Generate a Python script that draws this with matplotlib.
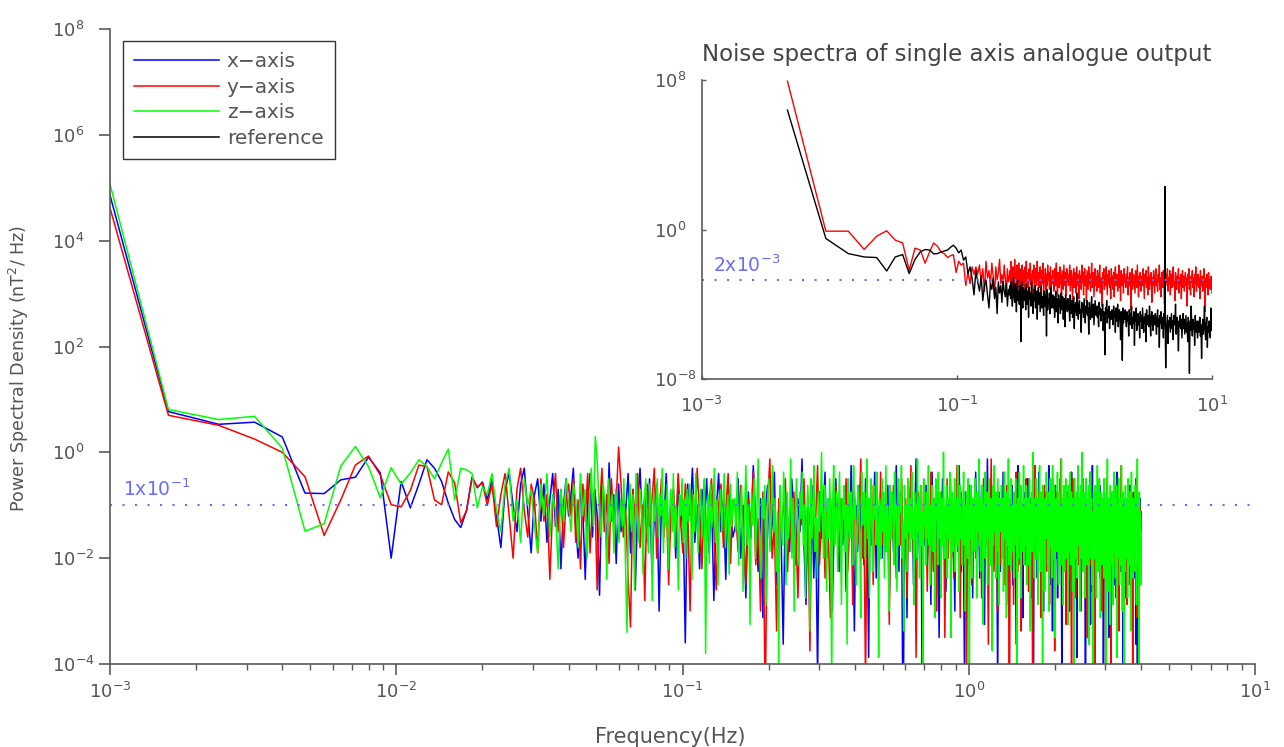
import numpy as np
import matplotlib
matplotlib.use("Agg")
import matplotlib.pyplot as plt
from matplotlib.ticker import FixedLocator, NullLocator, LogLocator

# ---------------- data ----------------
DF_MAIN = 0.8e-3      # Hz, bin spacing of main spectra
F_SPLIT_MAIN = 0.15   # Hz, start of the dense high-frequency block
F_END_MAIN = 4.0      # Hz
N_LIN_XY = 50         # bins on the native grid (x, y axis)
N_LIN_Z = 100         # bins on the native grid (z axis)
DF_INSET = 4.7e-3
F_END_INSET = 10.0
N_LIN_INSET = 55

# log10 PSD of the lowest bins
X_LOW = [6.80, 0.77, 0.53, 0.57, 0.29, -0.77, -0.78, -0.52, -0.47, -0.09, -0.39, -2.0, -0.55,
         -1.05, -0.6, -0.14, -0.3, -0.55, -0.96, -1.27, -1.42, -1.1, -0.47, -0.67, -0.56]
Y_LOW = [6.48, 0.70, 0.51, 0.25, 0.0, -0.46, -1.57, -0.9, -0.24, -0.07, -0.43, -0.99, -1.03,
         -0.72, -0.24, -0.27, -0.9, -0.99, -0.37, -0.58, -1.33, -1.1, -0.47, -0.65, -0.58]
Z_LOW = [7.09, 0.81, 0.62, 0.68, 0.08, -1.49, -1.35, -0.26, 0.11, -0.27, -0.86, -0.29, -0.6,
         -0.39, -0.14, -0.27, -0.5, -0.2, 0.06, -0.9, -0.3, -0.33, -0.4, -1.05, -0.65]

# mid bins: depth below 1 nT^2/Hz in tenths of a decade (PSD = 10**(-d/10))
X_MID = [9, 5, 12, 18, 7, 4, 10, 15, 6, 3, 11, 19, 8, 5, 13, 6, 17, 9, 4, 14, 7, 22, 10, 5, 12,
         8, 3, 14, 20, 6, 11, 24, 9, 4, 16, 7, 12, 27, 5, 10, 18, 2, 13, 8, 21, 6, 15, 9,
         11, 4, 19, 7, 26, 10, 3, 14, 8, 17, 5, 23, 12, 6, 30, 9, 13, 4, 18, 11, 7, 20, 5,
         14, 9, 36, 6, 12, 3, 17, 10, 22, 7, 13, 5, 19, 8, 28, 11, 4, 15, 9, 24, 6, 12, 16]
Y_MID = [10, 6, 14, 8, 4, 12, 20, 7, 3, 11, 16, 6, 9, 19, 5, 13, 8, 24, 10, 4, 15, 7, 18, 9, 6,
         12, 5, 17, 9, 22, 6, 13, 4, 19, 10, 7, 26, 11, 3, 15, 8, 21, 5, 14, 9, -1, 6, 16,
         11, 24, 33, 7, 13, 4, 18, 10, 28, 6, 14, 9, 3, 20, 12, 5, 16, 8, 25, 11, 7, 15, 4,
         13, 19, 6, 10, 30, 8, 15, 3, 12, 22, 7, 17, 9, 5, 14, 26, 10, 6, 18, 11, 4, 21, 9]
Z_MID = [8, 4, 11, 15, 6, 3, 13, 9, 17, 5, 10, 7, 14, 19, 6, 12, 4, 16, 8, 11, 22, 7, 13, 5, 10,
         15, 6, 9, 18, 4, 12, 7, 20, 10, 3, 14, -3, 2, 11, 16, 6, 9, 24, 5, 13, 8, 19, 7, 12, 17,
         9, 14, 5, 21, 34, 10, 6, 15, 8, 26, 4, 12, 17, 7, 11, 23, 9, 5, 14, 19, 6, 10, 28, 8, 13,
         10, 5, 16, 8, 12, 3, 19, 9, 14, 6, 22, 11, 7, 15, 4, 18, 10, 13, 26, 8, 12, 5, 17, 9, 20, 7,
         13, 6, 11, 24, 8, 15, 4, 12, 19, 9, 7, 16, 10, 5, 38, 13, 8, 21, 6, 14, 11, 3, 17, 9, 25, 12,
         7, 15, 10, 4, 18, 12, 8, 23, 6, 14, 9]
# dense block 0.15 - 4 Hz: depth index, HI_STEP decades per unit below 10**HI_TOP
HI_TOP = 0.25
HI_STEP = 0.125
X_HI = [13, 6, 18, 10, 24, 8, 15, 4, 12, 20, 9, 27, 11, 7, 16, 13, 5, 22, 10, 14, 31, 8, 12, 17, 6, 11,
        19, 9, 14, 3, 16, 25, 10, 13, 7, 21, 12, 36, 8, 15, 11, 5, 18, 13, 9, 26, 14, 6, 12, 20, 10, 16,
        8, 23, 12, 15, 4, 13, 29, 10, 17, 7, 14, 11, 19, 6, 12, 33, 9, 16, 13, 5, 21, 10, 14, 8, 18, 12,
        10, 15, 7, 24, 13, 9, 17, 11, 4, 14, 20, 8, 12, 48, 16, 10, 27, 6, 13, 15, 9, 22, 11, 3, 18, 12,
        14, 9, 46, 11, 16, 7, 19, 13, 10, 25, 5, 15, 12, 21, 8, 14, 30, 10, 17, 6, 13, 11, 23, 9, 15, 12,
        6, 18, 11, 14, 26, 9, 13, 16, 4, 12, 20, 10, 15, 34, 8, 13, 11, 19, 7, 16, 12, 24, 10, 14, 5, 17,
        12, 9, 21, 13, 7, 15, 11, 28, 10, 16, 3, 14, 12, 19, 9, 23, 13, 6, 17, 11, 15, 38, 8, 12, 20, 10,
        15, 5, 13, 18, 11, 25, 8, 14, 10, 16, 12, 7, 22, 13, 9, 15, 31, 11, 4, 17, 12, 19, 10, 14, 27, 8,
        13, 16, 10, 20, 6, 12, 15, 9, 24, 14, 11, 42, 7, 13, 17, 10, 21, 12, 5, 15, 11, 18, 9, 14, 26, 12,
        8, 14, 19, 11, 13, 4, 16, 22, 10, 12, 29, 9, 15, 13, 7, 18, 11, 24, 14, 10, 16, 6, 13, 35, 11, 15,
        12, 9, 17, 14, 21, 8, 13, 11, 26, 10, 15, 5, 19, 12, 16, 9, 23, 14, 11, 33, 7, 13, 18, 10, 15, 12,
        16, 11, 6, 20, 13, 10, 47, 15, 9, 22, 12, 14, 8, 17, 28, 11, 13, 4, 19, 10, 15, 25, 12, 9, 16, 14,
        10, 18, 13, 7, 15, 24, 11, 14, 9, 46, 12, 16, 10, 21, 13, 6, 17, 11, 30, 14, 9, 15, 12, 19, 8, 13,
        14, 11, 22, 9, 16, 12, 5, 18, 13, 27, 10, 15, 11, 20, 8, 14, 12, 36, 9, 16, 13, 10, 24, 11, 17, 12,
        9, 15, 12, 19, 7, 14, 26, 11, 16, 10, 13, 21, 8, 15, 12, 31, 11, 17, 40, 10, 14, 13, 22, 9, 15, 11]
Y_HI = [11, 17, 7, 14, 22, 9, 13, 5, 19, 12, 26, 8, 40, 10, 3, 18, 13, 29, 9, 14, 11, 6, 20, 12, 16, 8,
        14, 24, 10, 13, 6, 17, 11, 32, 9, 15, 12, 4, 19, 13, 8, 21, 11, 16, 27, 10, 14, 7, 12, 18, 9, 15,
        12, 6, 20, 14, 10, 25, 8, 13, 16, 11, 3, 18, 12, 37, 9, 15, 13, 7, 22, 10, 14, 12, 19, 5, 16, 11,
        17, 9, 13, 28, 11, 15, 7, 12, 21, 10, 14, 16, 6, 19, 13, 9, 24, 11, 15, 4, 12, 18, 10, 33, 13, 8,
        14, 11, 19, 7, 15, 12, 23, 10, 16, 5, 13, 20, 9, 14, 26, 11, 12, 17, 8, 15, 10, 30, 13, 6, 18, 12,
        9, 16, 12, 21, 10, 14, 4, 17, 13, 27, 8, 15, 11, 19, 12, 41, 10, 14, 7, 16, 22, 11, 13, 9, 18, 12,
        15, 8, 14, 11, 24, 13, 6, 18, 10, 16, 12, 31, 9, 14, 3, 17, 11, 20, 13, 10, 15, 26, 8, 12, 19, 11,
        13, 17, 10, 22, 12, 7, 15, 11, 48, 14, 9, 18, 13, 25, 10, 16, 5, 12, 20, 11, 14, 8, 29, 13, 16, 10,
        12, 19, 6, 14, 11, 23, 9, 15, 13, 17, 36, 10, 12, 4, 18, 14, 11, 21, 8, 16, 13, 27, 10, 15, 12, 7,
        16, 11, 20, 13, 9, 15, 25, 12, 10, 18, 6, 14, 12, 32, 11, 16, 8, 13, 22, 10, 15, 12, 3, 17, 11, 19,
        10, 14, 12, 28, 8, 16, 13, 11, 21, 9, 15, 39, 12, 6, 17, 13, 10, 24, 14, 11, 16, 8, 19, 12, 15, 26,
        11, 17, 9, 13, 20, 12, 15, 7, 14, 30, 10, 16, 13, 5, 19, 11, 23, 14, 12, 9, 17, 43, 10, 15, 13, 18,
        8, 14, 12, 21, 16, 10, 13, 26, 11, 15, 9, 18, 12, 47, 14, 6, 17, 11, 22, 13, 10, 16, 34, 12, 15, 9,
        13, 19, 11, 15, 7, 24, 12, 16, 10, 14, 29, 9, 17, 13, 4, 20, 12, 15, 11, 38, 14, 10, 18, 12, 25, 13,
        11, 16, 9, 22, 14, 12, 18, 8, 15, 35, 13, 10, 20, 12, 16, 6, 14, 27, 11, 17, 13, 41, 10, 15, 19, 12]
Z_HI = [9, 14, 5, 19, 11, 7, 23, 12, 4, 16, 10, 28, 8, 13, 6, 18, 11, 3, 15, 21, 9, 12, 7, 25, 10,
        6, 17, 12, 4, 14, 9, 20, 11, 34, 7, 13, 16, 5, 10, 22, 8, 15, 12, 3, 18, 9, 26, 11, 6, 14,
        19, 8, 12, 5, 16, 10, 24, 13, 7, 11, 29, 6, 15, 9, 4, 17, 12, 21, 8, 14, 10, 2, 13, 18, 7,
        11, 23, 9, 15, 6, 12, 38, 10, 4, 16, 13, 8, 20, 11, 5, 14, 25, 9, 12, 7, 17, 10, 31, 6, 13,
        15, 8, 11, 19, 4, 12, 9, 22, 14, 7, 10, 16, 27, 5, 13, 11, 8, 18, 12, 3, 15, 9, 24, 10, 6,
        14, 20, 7, 12, 10, 16, 5, 13, 33, 9, 11, 18, 6, 14, 8, 21, 12, 4, 17, 10, 13, 26, 7, 15, 11,
        8, 13, 19, 5, 12, 10, 23, 14, 6, 16, 9, 11, 4, 18, 13, 29, 7, 12, 15, 10, 20, 6, 14, 9, 17,
        12, 5, 15, 11, 25, 8, 13, 10, 18, 3, 14, 9, 21, 12, 7, 16, 11, 36, 6, 13, 10, 19, 8, 15, 12,
        4, 16, 10, 22, 13, 7, 11, 17, 9, 14, 27, 6, 12, 10, 19, 5, 15, 11, 8, 24, 13, 9, 16, 2, 12,
        18, 10, 14, 7, 21, 12, 9, 15, 5, 13, 30, 11, 8, 17, 10, 14, 6, 20, 12, 9, 16, 4, 13, 23, 11,
        7, 15, 12, 19, 9, 13, 5, 16, 10, 26, 14, 8, 11, 18, 6, 13, 40, 10, 15, 7, 12, 21, 9, 14, 11,
        17, 6, 13, 10, 24, 8, 14, 12, 3, 16, 11, 20, 9, 15, 7, 13, 28, 10, 12, 5, 18, 11, 14, 8, 22,
        10, 15, 6, 12, 19, 9, 13, 11, 32, 7, 16, 10, 4, 14, 12, 21, 8, 17, 11, 6, 15, 25, 9, 13, 10,
        14, 7, 18, 12, 9, 23, 11, 5, 15, 10, 13, 27, 8, 16, 12, 3, 19, 11, 14, 9, 20, 6, 13, 10, 17,
        11, 21, 8, 14, 12, 6, 16, 10, 35, 13, 9, 18, 11, 5, 15, 12, 24, 7, 14, 10, 17, 13, 4, 19, 9,
        13, 10, 16, 7, 22, 12, 9, 14, 11, 19, 6, 15, 29, 10, 13, 8, 17, 12, 2, 16, 11, 21, 9, 14, 12,
        6, 18, 11, 13, 25, 9, 15, 10, 4, 17, 12, 20, 8, 14, 11, 46, 7, 13, 16, 10, 23, 9, 12, 15, 5,
        14, 11, 19, 8, 13, 10, 26, 12, 6, 16, 9, 15, 21, 11, 4, 14, 12, 18, 7, 13, 30, 10, 16, 9, 12,
        17, 5, 13, 11, 22, 8, 15, 12, 10, 19, 14, 3, 16, 9, 12, 25, 11, 7, 14, 20, 10, 13, 6, 18, 11,
        9, 15, 12, 28, 7, 14, 10, 17, 13, 5, 19, 11, 8, 16, 12, 23, 9, 14, 11, 37, 6, 13, 15, 10, 18,
        12, 8, 21, 11, 14, 4, 16, 10, 13, 26, 9, 15, 7, 12, 18, 11, 2, 14, 10, 20, 13, 8, 17, 11, 24,
        10, 14, 6, 13, 19, 9, 12, 16, 11, 31, 7, 15, 10, 13, 5, 18, 12, 9, 22, 14, 11, 16, 47, 8, 13,
        15, 11, 18, 7, 13, 10, 24, 12, 16, 4, 14, 9, 20, 11, 13, 6, 17, 12, 27, 10, 15, 8, 19, 11, 14,
        9, 16, 12, 21, 6, 13, 11, 17, 10, 45, 14, 8, 15, 12, 3, 18, 11, 23, 9, 13, 16, 10, 28, 7, 14,
        12, 19, 10, 14, 8, 16, 11, 25, 13, 5, 17, 10, 14, 9, 21, 12, 15, 7, 13, 33, 11, 18, 10, 14, 6,
        16, 12, 22, 9, 14, 11, 19, 13, 4, 15, 10, 26, 12, 17, 8, 13, 44, 11, 16, 10, 20, 7, 14, 12, 18,
        11, 15, 9, 24, 13, 6, 17, 12, 10, 19, 14, 8, 16, 11, 29, 13, 5, 18, 10, 15, 12, 21, 9, 14, 11,
        17, 10, 13, 7, 20, 12, 15, 9, 25, 11, 14, 3, 16, 12, 19, 10, 13, 38, 8, 15, 11, 18, 12, 22, 14]

# inset: single-axis output (red) and reference (black)
SA_LOW = [7.94, -0.09, -0.09, -1.07, -0.36, -0.07, -0.57, -0.72, -2.18, -1.0, -1.1, -1.8, -1.2,
          -0.72, -0.9, -1.2, -1.3, -1.5, -1.4, -1.35, -2.3, -1.7, -1.9, -1.8, -3.0, -2.3, -2.9,
          -2.0, -2.4, -2.0]
REF_LOW = [6.39, -0.48, -1.29, -1.47, -1.5, -2.22, -1.47, -1.34, -2.36, -1.6, -1.2, -1.07, -1.1,
           -1.3, -1.29, -1.2, -1.15, -1.1, -0.95, -0.84, -1.0, -1.25, -1.1, -1.64, -1.47, -2.36,
           -2.0, -2.6, -3.5, -2.2]
# depth in tenths of a decade (PSD = 10**(-d/10))
SA_MID = [24, 19, 28, 21, 33, 17, 26, 22, 30, 18, 25, 35, 20, 27, 23, 16, 29, 24, 31, 19, 26, 34, 21, 28, 25]
REF_MID = [28, 33, 25, 38, 30, 27, 35, 42, 29, 32, 26, 37, 31, 45, 28, 34, 30, 39, 27, 33, 36, 29, 41, 32, 35]
SA_HI = [22, 29, 17, 26, 33, 20, 24, 31, 16, 27, 23, 35, 19, 28, 25, 18, 32, 21, 27, 38, 24, 19, 30, 22, 26,
         34, 20, 28, 17, 25, 31, 23, 36, 21, 27, 18, 29, 24, 40, 22, 26, 19, 33, 28, 21, 25, 30, 17, 27, 23,
         31, 24, 20, 35, 26, 22, 29, 18, 33, 25, 28, 21, 37, 24, 30, 19, 27, 23, 32, 26, 20, 34, 25, 29, 22,
         27, 33, 21, 25, 30, 18, 28, 36, 23, 26, 31, 20, 29, 24, 42, 22, 27, 32, 19, 25, 30, 23, 35, 21, 28,
         24, 30, 26, 19, 33, 27, 22, 29, 38, 25, 21, 31, 28, 23, 34, 20, 26, 30, 24, 37, 22, 29, 25, 32, 19,
         28, 23, 35, 26, 21, 30, 25, 39, 22, 27, 32, 20, 29, 24, 33, 27, 18, 31, 26, 23, 36, 28, 21, 30, 25,
         33, 22, 27, 31, 24, 19, 34, 26, 29, 41, 23, 28, 21, 32, 25, 30, 20, 27, 35, 24, 29, 22, 31, 26, 37,
         21, 29, 25, 32, 23, 36, 27, 20, 30, 26, 24, 33, 28, 19, 31, 25, 38, 22, 27, 30, 24, 34, 21, 28, 26,
         31, 24, 28, 20, 35, 26, 30, 23, 27, 43, 25, 21, 32, 28, 24, 29, 34, 22, 26, 31, 19, 28, 36, 25, 30,
         23, 33, 27, 25, 30, 21, 29, 37, 24, 28, 22, 31, 26, 35, 20, 27, 32, 25, 29, 23, 39, 26, 30, 22, 28,
         34, 25, 21, 30, 27, 33, 24, 28, 19, 32, 26, 36, 23, 29, 31, 22, 27, 40, 25, 30, 24, 28, 21, 33, 26,
         29, 22, 35, 27, 24, 31, 26, 20, 30, 28, 38, 23, 27, 32, 25, 29, 21, 34, 26, 30, 24, 37, 28, 22, 31,
         25, 33, 28, 23, 30, 26, 41, 24, 29, 21, 32, 27, 35, 25, 28, 22, 31, 26, 36, 24, 29, 20, 33, 27, 30,
         24, 31, 26, 37, 22, 28, 30, 25, 33, 27, 21, 29, 44, 26, 31, 24, 28, 35, 23, 30, 27, 32, 25, 29, 34]
REF_HI = [30, 37, 28, 35, 41, 32, 26, 36, 39, 29, 34, 44, 31, 27, 38, 33, 40, 30, 35, 60, 28, 36, 42, 31, 34,
          38, 32, 43, 29, 36, 40, 33, 47, 31, 37, 34, 41, 28, 39, 35, 45, 32, 38, 30, 42, 36, 33, 48, 35, 31,
          40, 34, 44, 37, 30, 42, 36, 39, 46, 33, 41, 35, 38, 57, 32, 43, 37, 40, 34, 45, 36, 31, 42, 38, 35,
          42, 36, 47, 39, 33, 44, 40, 37, 50, 35, 41, 38, 45, 34, 43, 39, 36, 48, 40, 37, 52, 35, 42, 38, 44,
          37, 43, 40, 49, 35, 45, 41, 38, 47, 42, 36, 53, 40, 44, 39, 46, 34, 42, 48, 41, 38, 45, 43, 55, 39,
          44, 40, 47, 37, 43, 50, 41, 45, 38, 46, 42, 56, 39, 44, 48, 41, 36, 47, 43, 40, 51, 45, 38, 42, 46,
          41, 47, 44, 52, 39, 45, 42, 49, 43, 46, 40, 54, 44, 48, 67, 42, 45, 38, 50, 43, 47, 41, 53, 45, 44,
          48, 43, 46, 51, 41, 47, 44, 55, 42, 49, 45, 40, 52, 46, 43, 48, 59, 44, 47, 70, 42, 50, 45, 48, 43,
          47, 52, 44, 49, 46, 57, 43, 48, 51, 45, 41, 53, 47, 50, 44, 62, 46, 49, 42, 54, 48, 45, 51, 47, 58,
          44, 49, 46, 53, 42, 48, 55, 47, 50, 45, 60, 43, 51, 48, 46, 52, 41, 49, 57, 47, 44, 50, 54, 46, 48,
          51, 45, 49, 56, 47, 43, 52, 48, 63, 46, 50, 44, 53, 49, 47, 58, 45, 51, 48, 74, 54, 50, 46, 61, 49,
          52, 47, 55, 50, 45, 53, 49, 59, 46, 51, 48, 40, 56, 50, 47, 54, 65, 49, 52, 46, 53, 48, 58, 51, 45,
          53, 48, 56, 51, 46, 55, 50, 60, 47, 52, 77, 49, 54, 41, 51, 57, 48, 53, 50, 62, 46, 52, 55, 49, 58,
          49, 55, 52, 47, 57, 51, 69, 53, 48, 56, 50, 41, 54, 59, 51, 47, 63, 52, 55, 49, 53, 58, 42, 54, 51]
SPIKE_F = 4.29        # Hz, interference line in the inset
SPIKE_LOG = 2.3       # log10 PSD at the line

REF_LEVEL_MAIN = 1e-1
REF_LEVEL_INSET = 2e-3
LABELS = ["x\u2212axis", "y\u2212axis", "z\u2212axis", "reference"]


def main_spectrum(low_log, mid, hi, n_lin):
    vals = np.concatenate([10.0 ** np.asarray(low_log, float),
                           10.0 ** (-np.asarray(mid, float) / 10.0),
                           10.0 ** (HI_TOP - HI_STEP * np.asarray(hi, float))])
    f_lin = DF_MAIN * np.arange(1, n_lin + 1)
    n_mid = len(low_log) + len(mid) - n_lin
    f_mid = np.geomspace(f_lin[-1], F_SPLIT_MAIN, n_mid + 1)[1:]
    # dense block sampled evenly in sqrt(f): density grows with f like the original bins
    f_hi = np.linspace(np.sqrt(F_SPLIT_MAIN), np.sqrt(F_END_MAIN), len(hi) + 1)[1:] ** 2
    return np.concatenate([f_lin, f_mid, f_hi]), vals


def inset_spectrum(low_log, mid, hi):
    vals = np.concatenate([10.0 ** np.asarray(low_log, float),
                           10.0 ** (-np.asarray(mid, float) / 10.0),
                           10.0 ** (-np.asarray(hi, float) / 10.0)])
    f_lin = DF_INSET * np.arange(1, N_LIN_INSET + 1)
    f_hi = np.geomspace(f_lin[-1], F_END_INSET, len(hi) + 1)[1:]
    f = np.concatenate([f_lin, f_hi])
    i = np.searchsorted(f, SPIKE_F)
    return np.insert(f, i, SPIKE_F), np.insert(vals, i, 10.0 ** SPIKE_LOG)


fx, vx = main_spectrum(X_LOW, X_MID, X_HI, N_LIN_XY)
fy, vy = main_spectrum(Y_LOW, Y_MID, Y_HI, N_LIN_XY)
fz, vz = main_spectrum(Z_LOW, Z_MID, Z_HI, N_LIN_Z)
fs, vs = inset_spectrum(SA_LOW, SA_MID, SA_HI)
fr, vr = inset_spectrum(REF_LOW, REF_MID, REF_HI)

# ---------------- figure ----------------
W, H = 1284, 747
TXT = "#555555"
AXC = "#5a5a5a"
DOT = (0.42, 0.42, 1.0)
plt.rcParams["font.family"] = ["DejaVu Sans"]

fig = plt.figure(figsize=(W / 100, H / 100), dpi=100)
ax = fig.add_axes([110 / W, 1 - 664 / H, (1255 - 110) / W, (664 - 29) / H])
ax.set_xscale("log")
ax.set_yscale("log")

ax.plot(fx, vx, color="#0000ff", lw=1.1, label=LABELS[0])
ax.plot(fy, vy, color="#ff0000", lw=1.1, label=LABELS[1])
ax.plot(fz, vz, color="#00ff00", lw=1.1, label=LABELS[2])
ax.plot([], [], color="#000000", lw=1.1, label=LABELS[3])
ax.axhline(REF_LEVEL_MAIN, color=DOT, lw=1.5, ls=(0, (1, 5)))
ax.annotate("1x10$^{-1}$", (1.11e-3, REF_LEVEL_MAIN), xytext=(0, 4),
            textcoords="offset points", color=DOT, fontsize=13.5, va="bottom", ha="left")

ax.set_xlim(1e-3, 1e1)
ax.set_ylim(1e-4, 1e8)
ax.xaxis.set_major_locator(FixedLocator([1e-3, 1e-2, 1e-1, 1e0, 1e1]))
ax.xaxis.set_minor_locator(LogLocator(base=10, subs=np.arange(2, 10), numticks=20))
ax.yaxis.set_major_locator(FixedLocator([1e-4, 1e-2, 1e0, 1e2, 1e4, 1e6, 1e8]))
ax.yaxis.set_minor_locator(NullLocator())
for s in ("top", "right"):
    ax.spines[s].set_visible(False)
for s in ("left", "bottom"):
    ax.spines[s].set_color(AXC)
    ax.spines[s].set_linewidth(1.2)
ax.tick_params(which="major", direction="out", length=8, width=1.2, color=AXC,
               labelcolor=TXT, labelsize=13)
ax.tick_params(which="minor", direction="out", length=4, width=1.0, color=AXC)
ax.tick_params(axis="x", which="major", pad=5)
ax.tick_params(axis="y", which="major", pad=34)
for lbl in ax.get_yticklabels():
    lbl.set_horizontalalignment("left")

ax.set_xlabel("Frequency(Hz)", fontsize=15, color=TXT)
ax.xaxis.set_label_coords(0.489, -0.099)
ax.set_ylabel("Power Spectral Density (nT$^2$/ Hz)", fontsize=12.6, color=TXT)
ax.yaxis.set_label_coords(-0.069, 0.466)

leg = ax.legend(loc="upper left", bbox_to_anchor=(123 / W, 1 - 41 / H),
                bbox_transform=fig.transFigure, borderaxespad=0, fontsize=14.5,
                handlelength=4.2, handletextpad=0.4, labelspacing=0.33, borderpad=0.55,
                fancybox=False, framealpha=1)
leg.get_frame().set_edgecolor("#333333")
leg.get_frame().set_linewidth(1.0)
for t in leg.get_texts():
    t.set_color(TXT)

# ---------------- inset ----------------
ai = fig.add_axes([701.7 / W, 1 - 379 / H, (1212 - 701.7) / W, (379 - 80) / H])
ai.set_xscale("log")
ai.set_yscale("log")
ai.plot(fs, vs, color="#ff0000", lw=1.0)
ai.plot(fr, vr, color="#000000", lw=1.0)
ai.axhline(REF_LEVEL_INSET, color=DOT, lw=1.5, ls=(0, (1, 5)))
ai.annotate("2x10$^{-3}$", (1.23e-3, REF_LEVEL_INSET), xytext=(0, 3),
            textcoords="offset points", color=DOT, fontsize=13.5, va="bottom", ha="left")
ai.set_xlim(1e-3, 1e1)
ai.set_ylim(1e-8, 1e8)
ai.xaxis.set_major_locator(FixedLocator([1e-3, 1e-1, 1e1]))
ai.xaxis.set_minor_locator(NullLocator())
ai.yaxis.set_major_locator(FixedLocator([1e-8, 1e0, 1e8]))
ai.yaxis.set_minor_locator(NullLocator())
for s in ("top", "right"):
    ai.spines[s].set_visible(False)
for s in ("left", "bottom"):
    ai.spines[s].set_color(AXC)
    ai.spines[s].set_linewidth(1.2)
ai.tick_params(which="major", direction="in", length=3, width=1.0, color=AXC,
               labelcolor=TXT, labelsize=13)
ai.tick_params(axis="x", pad=12)
ai.tick_params(axis="y", pad=34)
for lbl in ai.get_yticklabels():
    lbl.set_horizontalalignment("left")
ai.set_title("Noise spectra of single axis analogue output", fontsize=16.5, color="#444444", pad=14)

fig.savefig("out.png", dpi=100)
